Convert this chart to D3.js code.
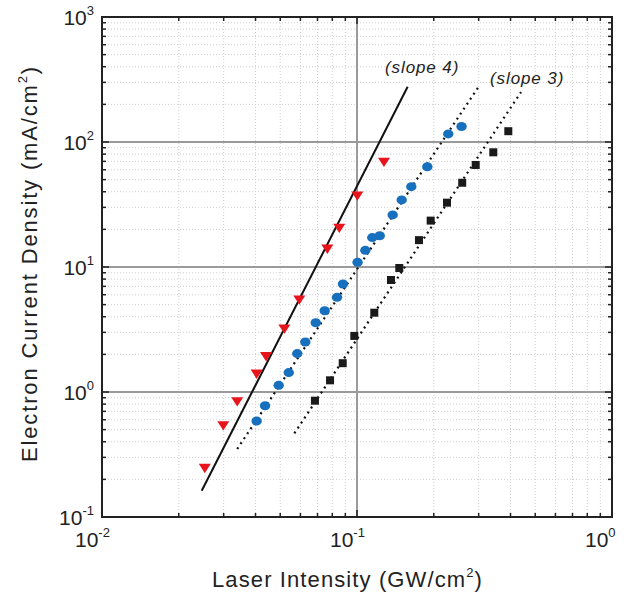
<!DOCTYPE html>
<html><head><meta charset="utf-8">
<script src="https://cdn.jsdelivr.net/npm/d3@7/dist/d3.min.js"></script>
<style>body{margin:0;background:#fff}svg{display:block}text{font-family:"Liberation Sans",Arial,Helvetica,sans-serif;fill:#222}</style>
</head><body><svg id="c" width="637" height="595"></svg>
<script>
// ---- data ----
const triX = [0.0253,0.0299,0.0339,0.0404,0.0440,0.0519,0.0594,0.0765,0.0852,0.1003,0.1276];
const triY = [0.245,0.538,0.836,1.39,1.92,3.19,5.45,13.9,20.4,37.0,68.8];
const cirX = [0.0404,0.0436,0.0493,0.0540,0.0583,0.0627,0.0689,0.0747,0.0835,0.0881,0.1005,0.1078,0.1148,0.1228,0.1380,0.1497,0.1633,0.1887,0.2280,0.2570];
const cirY = [0.586,0.777,1.13,1.43,2.03,2.51,3.58,4.47,5.72,7.31,10.9,13.6,17.2,17.8,26.1,34.4,43.9,63.4,116,133];
const sqX = [0.0684,0.0784,0.0879,0.0976,0.1169,0.1359,0.1465,0.1750,0.1945,0.2254,0.2586,0.2921,0.3424,0.3921];
const sqY = [0.852,1.24,1.70,2.81,4.31,7.87,9.82,16.4,23.5,32.7,47.2,65.5,82.7,122];
const slope4X = [0.0246,0.158], slope4Y = [0.162,277];
const slope3aX = [0.0339,0.301], slope3aY = [0.35,280];
const slope3bX = [0.0568,0.440], slope3bY = [0.467,251];
const xTickExp = [-2,-1,0];
const yTickExp = [-1,0,1,2,3];
const xTitle = "Laser Intensity (GW/cm", yTitle = "Electron Current Density (mA/cm";
const slopeLabels = ["(slope 4)","(slope 3)"];

// ---- layout ----
const svg = d3.select("#c");
const L=102,R=612,T=17,B=517;
const x = d3.scaleLog().domain([0.01,1]).range([L,R]);
const y = d3.scaleLog().domain([0.1,1000]).range([B,T]);

const minorX=[], majorX=[], minorY=[], majorY=[];
for (let e=-2;e<0;e++) for (let m=2;m<=9;m++) minorX.push(m*Math.pow(10,e));
for (let e=-1;e<3;e++) for (let m=2;m<=9;m++) minorY.push(m*Math.pow(10,e));
xTickExp.forEach(e=>majorX.push(Math.pow(10,e)));
yTickExp.forEach(e=>majorY.push(Math.pow(10,e)));

const g = svg.append("g");
// minor grid
g.selectAll(".mgx").data(minorX).enter().append("line")
 .attr("x1",d=>x(d)).attr("x2",d=>x(d)).attr("y1",T).attr("y2",B)
 .attr("stroke","#cfcfcf").attr("stroke-width",1).attr("stroke-dasharray","1,2");
g.selectAll(".mgy").data(minorY).enter().append("line")
 .attr("y1",d=>y(d)).attr("y2",d=>y(d)).attr("x1",L).attr("x2",R)
 .attr("stroke","#cfcfcf").attr("stroke-width",1).attr("stroke-dasharray","1,2");
// major grid
g.selectAll(".Mgx").data(majorX.slice(1,-1)).enter().append("line")
 .attr("x1",d=>x(d)).attr("x2",d=>x(d)).attr("y1",T).attr("y2",B)
 .attr("stroke","#9a9a9a").attr("stroke-width",2);
g.selectAll(".Mgy").data(majorY.slice(1,-1)).enter().append("line")
 .attr("y1",d=>y(d)).attr("y2",d=>y(d)).attr("x1",L).attr("x2",R)
 .attr("stroke","#9a9a9a").attr("stroke-width",2);

// ticks (inside, all four sides)
const tk = svg.append("g").attr("stroke","#222").attr("stroke-width",1.5);
function xt(vals,len){vals.forEach(v=>{
  tk.append("line").attr("x1",x(v)).attr("x2",x(v)).attr("y1",B).attr("y2",B-len);
  tk.append("line").attr("x1",x(v)).attr("x2",x(v)).attr("y1",T).attr("y2",T+len);});}
function yt(vals,len){vals.forEach(v=>{
  tk.append("line").attr("y1",y(v)).attr("y2",y(v)).attr("x1",L).attr("x2",L+len);
  tk.append("line").attr("y1",y(v)).attr("y2",y(v)).attr("x1",R).attr("x2",R-len);});}
xt(minorX,4); yt(minorY,4); xt(majorX,7); yt(majorY,7);

// frame
svg.append("rect").attr("x",L).attr("y",T).attr("width",R-L).attr("height",B-T)
 .attr("fill","none").attr("stroke","#222").attr("stroke-width",2);

// fit lines
const line = d3.line().x(d=>x(d[0])).y(d=>y(d[1]));
svg.append("path").attr("d",line(d3.zip(slope4X,slope4Y))).attr("stroke","#111").attr("stroke-width",2).attr("fill","none");
svg.append("path").attr("d",line(d3.zip(slope3aX,slope3aY))).attr("stroke","#111").attr("stroke-width",2.2).attr("stroke-dasharray","2,4").attr("fill","none");
svg.append("path").attr("d",line(d3.zip(slope3bX,slope3bY))).attr("stroke","#111").attr("stroke-width",2.2).attr("stroke-dasharray","2,4").attr("fill","none");

// markers
svg.append("g").selectAll("path").data(d3.zip(triX,triY)).enter().append("path")
 .attr("transform",d=>`translate(${x(d[0])},${y(d[1])})`)
 .attr("d","M-6,-4.5L6,-4.5L0,4.8Z").attr("fill","#e8141c");
svg.append("g").selectAll("ellipse").data(d3.zip(cirX,cirY)).enter().append("ellipse")
 .attr("cx",d=>x(d[0])).attr("cy",d=>y(d[1])).attr("rx",5.2).attr("ry",4.5).attr("fill","#1770bd");
svg.append("g").selectAll("rect").data(d3.zip(sqX,sqY)).enter().append("rect")
 .attr("x",d=>x(d[0])-4).attr("y",d=>y(d[1])-4).attr("width",8).attr("height",8).attr("fill","#1a1a1a");

// slope labels
svg.append("text").attr("x",385).attr("y",73).attr("font-size",17).attr("font-style","italic").attr("letter-spacing",0.9).text(slopeLabels[0]);
svg.append("text").attr("x",490).attr("y",84).attr("font-size",17).attr("font-style","italic").attr("letter-spacing",0.9).text(slopeLabels[1]);

// tick labels
xTickExp.forEach(e=>{
  const t=svg.append("text").attr("x",x(Math.pow(10,e))-27).attr("y",547).attr("font-size",21);
  t.append("tspan").text("10");
  t.append("tspan").attr("font-size",13).attr("dy",-10).text(String(e));
});
yTickExp.forEach(e=>{
  const t=svg.append("text").attr("x",94).attr("y",y(Math.pow(10,e))+8).attr("font-size",21).attr("text-anchor","end");
  t.append("tspan").text("10");
  t.append("tspan").attr("font-size",13).attr("dy",-10).text(String(e));
});

// axis titles
function fit(t,target){const n=t.text().length;const l=t.node().getComputedTextLength();t.attr("letter-spacing",(target-l)/n);}
const xt1=svg.append("text").attr("x",212).attr("y",587).attr("font-size",22);
xt1.append("tspan").text(xTitle);
xt1.append("tspan").attr("font-size",13).attr("dy",-10).text("2");
xt1.append("tspan").attr("dy",10).text(")");
fit(xt1,271);
const yt1=svg.append("text").attr("transform","translate(37,462) rotate(-90)").attr("x",0).attr("y",0).attr("font-size",22);
yt1.append("tspan").text(yTitle);
yt1.append("tspan").attr("font-size",13).attr("dy",-10).text("2");
yt1.append("tspan").attr("dy",10).text(")");
fit(yt1,397);
</script></body></html>
